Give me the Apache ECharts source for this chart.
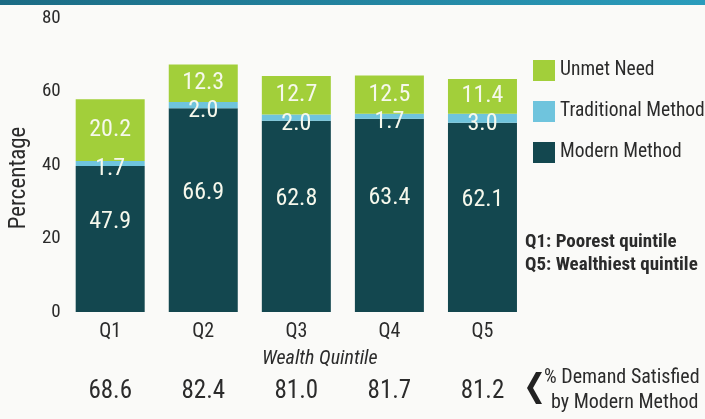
<!DOCTYPE html>
<html>
<head>
<meta charset="utf-8">
<script src="https://cdn.jsdelivr.net/npm/echarts@6/dist/echarts.min.js"></script>
<style>
  html, body { margin: 0; padding: 0; background: #fafaf8; }
  #chart { width: 705px; height: 419px; }
</style>
</head>
<body>
<div id="chart"></div>
<script>
  // data
  const categories = ['Q1', 'Q2', 'Q3', 'Q4', 'Q5'];
  const modernMethod = [47.9, 66.9, 62.8, 63.4, 62.1];
  const traditionalMethod = [1.7, 2.0, 2.0, 1.7, 3.0];
  const unmetNeed = [20.2, 12.3, 12.7, 12.5, 11.4];
  const demandSatisfied = [68.6, 82.4, 81.0, 81.7, 81.2];
  const yTicks = [0, 20, 40, 60, 80];

  const font = '"Roboto Condensed", "Liberation Sans Narrow", sans-serif';
  const txt = '#2b2b2b';

  let chart = echarts.init(document.getElementById('chart'));

  function fmt(p) { return p.value.toFixed(1); }

  function barSeries(name, data, color, labelOpts) {
    return {
      name: name,
      type: 'bar',
      stack: 'total',
      xAxisIndex: 0,
      yAxisIndex: 1,
      barWidth: 69,
      data: data,
      itemStyle: { color: color },
      label: Object.assign({
        show: true,
        position: 'inside',
        formatter: fmt,
        color: '#f6f8ec',
        fontFamily: font,
        fontSize: 24
      }, labelOpts)
    };
  }

  chart.setOption({
    backgroundColor: '#fafaf8',
    animation: false,
    textStyle: { fontFamily: font },
    grid: { left: 56, right: 176, top: 18, bottom: 107 },
    legend: {
      orient: 'vertical',
      left: 528,
      top: 55,
      itemWidth: 22,
      itemHeight: 21,
      itemGap: 20,
      icon: 'rect',
      selectedMode: false,
      data: ['Unmet Need', 'Traditional Method', 'Modern Method'],
      textStyle: { fontFamily: font, fontSize: 19.5, color: txt }
    },
    xAxis: [
      {
        type: 'category',
        data: categories,
        axisLine: { show: false },
        axisTick: { show: false },
        axisLabel: { fontFamily: font, fontSize: 20, color: txt, margin: 10 },
        name: 'Wealth Quintile',
        nameLocation: 'middle',
        nameGap: 37,
        nameTextStyle: { fontFamily: font, fontSize: 20, fontStyle: 'italic', color: txt, padding: [0, 0, 0, 47] }
      },
      {
        type: 'category',
        data: categories,
        position: 'bottom',
        offset: 60,
        axisLine: { show: false },
        axisTick: { show: false },
        axisLabel: {
          fontFamily: font, fontSize: 25, color: txt, margin: 7,
          formatter: function (v, i) { return demandSatisfied[i].toFixed(1); }
        }
      }
    ],
    yAxis: [
      {
        type: 'value',
        min: yTicks[0],
        max: yTicks[yTicks.length - 1],
        interval: yTicks[1] - yTicks[0],
        axisLine: { show: false },
        axisTick: { show: false },
        splitLine: { show: false },
        axisLabel: { fontFamily: font, fontSize: 19, color: txt, margin: 3 },
        name: 'Percentage',
        nameLocation: 'middle',
        nameGap: 28,
        nameTextStyle: { fontFamily: font, fontSize: 23, color: txt, padding: [0, 26, 0, 0] }
      },
      {
        // the bars in the source are drawn on a slightly compressed scale
        type: 'value',
        show: false,
        min: 0,
        max: 96.5,
        splitLine: { show: false }
      }
    ],
    series: [
      barSeries('Modern Method', modernMethod, '#13474f', { offset: [0, -17] }),
      barSeries('Traditional Method', traditionalMethod, '#6fc4dd', { offset: [0, 6] }),
      barSeries('Unmet Need', unmetNeed, '#a2cf3a', {})
    ],
    graphic: [
      {
        type: 'rect',
        shape: { x: 0, y: 0, width: 705, height: 5 },
        style: {
          fill: new echarts.graphic.LinearGradient(0, 0, 1, 0, [
            { offset: 0, color: '#1b6b84' },
            { offset: 1, color: '#2a9cbc' }
          ])
        }
      },
      {
        type: 'text', left: 525, top: 233,
        style: { text: 'Q1: Poorest quintile', font: 'bold 19px ' + font, fill: txt }
      },
      {
        type: 'text', left: 525, top: 256,
        style: { text: 'Q5: Wealthiest quintile', font: 'bold 19px ' + font, fill: txt }
      },
      {
        type: 'polygon',
        shape: { points: [[536, 372], [542, 372], [533, 388], [542, 404], [536, 404], [527, 388]] },
        style: { fill: '#222' }
      },
      {
        type: 'text', left: 544, top: 368,
        style: { text: '% Demand Satisfied', font: '20px ' + font, fill: txt }
      },
      {
        type: 'text', left: 551, top: 393,
        style: { text: 'by Modern Method', font: '20px ' + font, fill: txt }
      }
    ]
  });
</script>
</body>
</html>
